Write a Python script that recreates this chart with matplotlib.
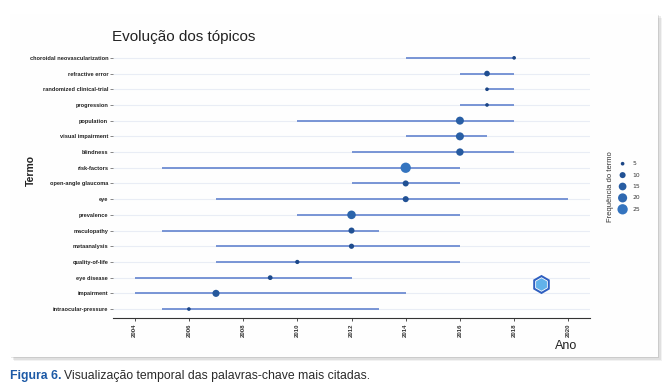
import matplotlib

matplotlib.use("Agg")
import matplotlib.pyplot as plt  # noqa: E402
import numpy as np  # noqa: E402
from matplotlib.colors import LinearSegmentedColormap  # noqa: E402
from matplotlib.patches import FancyBboxPatch  # noqa: E402

# terms from top to bottom
TERMS = [
    "choroidal neovascularization", "refractive error", "randomized clinical-trial",
    "progression", "population", "visual impairment", "blindness", "risk-factors",
    "open-angle glaucoma", "eye", "prevalence", "maculopathy", "metaanalysis",
    "quality-of-life", "eye disease", "impairment", "intraocular-pressure",
]
YEAR_START = [2014, 2016, 2017, 2016, 2010, 2014, 2012, 2005, 2012, 2007, 2010, 2005, 2007, 2007, 2004, 2004, 2005]
YEAR_END = [2018, 2018, 2018, 2018, 2018, 2017, 2018, 2016, 2016, 2020, 2016, 2013, 2016, 2016, 2012, 2014, 2013]
YEAR_MEDIAN = [2018, 2017, 2017, 2017, 2016, 2016, 2016, 2014, 2014, 2014, 2012, 2012, 2012, 2010, 2009, 2007, 2006]
FREQ = [5, 9, 5, 5, 16, 16, 14, 25, 10, 10, 18, 10, 8, 6, 7, 13, 5]

LEGEND_SIZES = [5, 10, 15, 20, 25]
YEAR_TICKS = list(range(2004, 2021, 2))

LINE_COLOR = "#6f8dd2"
GRID_COLOR = "#e9edf5"
CMAP = LinearSegmentedColormap.from_list("freq", ["#1b4585", "#3474bf"])

W, H = 669, 389
fig = plt.figure(figsize=(W / 100, H / 100), dpi=100)
fig.patch.set_facecolor("white")


def fx(px):
    return px / W


def fy(py):
    return 1 - py / H


def marker_area(v):
    # point area grows with term frequency
    return 2.4 * np.asarray(v) - 5


# card with a soft shadow, kept behind the axes
for off, a in [(4, 0.05), (2.5, 0.07), (1.2, 0.09)]:
    fig.patches.append(FancyBboxPatch(
        (fx(10 + off), fy(357 + off)), fx(648), 343 / H, boxstyle="square,pad=0",
        transform=fig.transFigure, facecolor="black", alpha=a, edgecolor="none", zorder=-3,
    ))
fig.patches.append(FancyBboxPatch(
    (fx(10), fy(357)), fx(648), 343 / H, boxstyle="square,pad=0",
    transform=fig.transFigure, facecolor="#fefefe", edgecolor="none", zorder=-2,
))

ax = fig.add_axes([fx(113), fy(318), fx(590) - fx(113), fy(50) - fy(318)])
ax.set_facecolor("none")
n = len(TERMS)
ypos = np.arange(n)[::-1]

for y in ypos:
    ax.axhline(y, color=GRID_COLOR, lw=0.8, zorder=1)

ax.hlines(ypos, YEAR_START, YEAR_END, color=LINE_COLOR, lw=1.3, zorder=2)
freq = np.array(FREQ)
norm = plt.Normalize(5, 25)
ax.scatter(YEAR_MEDIAN, ypos, s=marker_area(freq), c=CMAP(norm(freq)), zorder=3, linewidths=0)

# logo stand-in
ax.scatter([2019], [1.6], marker="h", s=190, color="#2f5fc0", zorder=3, linewidths=0)
ax.scatter([2019], [1.6], marker="h", s=95, color="#62b2ea", zorder=3,
           edgecolors="white", linewidths=0.6)

ax.set_xlim(2003.2, 2020.8)
ax.set_ylim(-0.57, n - 0.5)
ax.set_yticks(ypos)
ax.set_yticklabels(TERMS, fontsize=4.1, fontweight="bold", color="#222222",
                   family="Liberation Sans")
ax.set_xticks(YEAR_TICKS)
ax.set_xticklabels([str(t) for t in YEAR_TICKS], rotation=90, fontsize=4.3,
                   fontweight="bold", color="#333333", family="Liberation Sans")
ax.tick_params(axis="y", length=2, width=0.5, color="#555555", pad=1.5)
ax.tick_params(axis="x", length=2, width=0.6, color="#333333", pad=2)
for s in ["top", "right", "left"]:
    ax.spines[s].set_visible(False)
ax.spines["bottom"].set_color("#333333")
ax.spines["bottom"].set_linewidth(0.8)

fig.text(fx(112), fy(37), "Evolução dos tópicos", fontsize=11, family="Liberation Sans",
         va="center", ha="left", color="#222222")
fig.text(fx(31), fy(170), "Termo", rotation=90, fontsize=7.5, fontweight="bold",
         family="Liberation Sans", va="center", ha="center", color="#222222")
fig.text(fx(566), fy(346), "Ano", fontsize=9, family="Liberation Sans",
         va="center", ha="center", color="#222222")

# size legend
fig.text(fx(610), fy(187), "Frequência do termo", rotation=90, fontsize=5.5,
         family="Liberation Sans", va="center", ha="center", color="#333333")
lax = fig.add_axes([fx(616), fy(215), fx(30), 57 / H])
lax.set_xlim(0, 1)
lax.set_ylim(len(LEGEND_SIZES) - 0.5, -0.5)
lax.axis("off")
ly = np.arange(len(LEGEND_SIZES))
lsz = np.array(LEGEND_SIZES)
lax.scatter(np.full(len(ly), 0.22), ly, s=marker_area(lsz), c=CMAP(norm(lsz)), linewidths=0)
for yy, v in zip(ly, LEGEND_SIZES):
    lax.text(0.55, yy, str(v), fontsize=4.3, va="center", ha="left", color="#333333")

# caption
t1 = fig.text(fx(10), fy(376), "Figura 6.", fontsize=8.8, fontweight="bold",
              family="Liberation Sans", color="#1d5aa6", va="center", ha="left")
fig.canvas.draw()
bb = t1.get_window_extent()
fig.text((bb.x1 + 3) / W, fy(376), "Visualização temporal das palavras-chave mais citadas.",
         fontsize=8.8, family="Liberation Sans", color="#2a2a2a", va="center", ha="left")

fig.savefig("out.png", dpi=100)
